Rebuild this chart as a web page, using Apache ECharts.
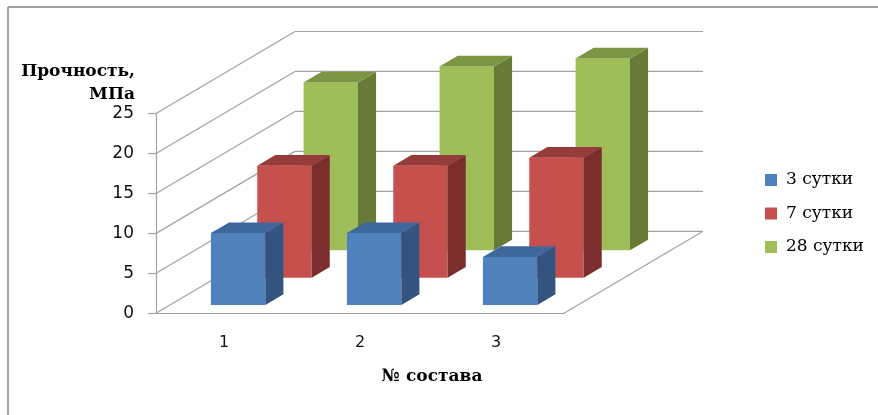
<!DOCTYPE html>
<html>
<head>
<meta charset="utf-8">
<script src="https://cdn.jsdelivr.net/npm/echarts@6/dist/echarts.min.js"></script>
<style>
  html, body { margin: 0; padding: 0; background: #fff; }
  #chart { width: 878px; height: 415px; }
</style>
</head>
<body>
<div id="chart"></div>
<script>
// Compressive strength by mix number and curing age
const categories = ['1', '2', '3'];
const seriesNames = ['3 сутки', '7 сутки', '28 сутки'];
const values3d = [9, 9, 6];
const values7d = [14, 14, 15];
const values28d = [21, 23, 24];
const yTicks = [0, 5, 10, 15, 20, 25];

// Oblique projection of the floor depth, in pixels
const DEPTH_X = 139;
const DEPTH_Y = 82;
const ROWS = 3;
const BAR_DEPTH = 0.13;   // share of the floor depth taken by one bar
const BAR_WIDTH = 0.4;    // share of the category band

const palette = [
  { front: '#4F81BD', side: '#345480', top: '#3E679C' },
  { front: '#C6504E', side: '#7C2D2D', top: '#953B39' },
  { front: '#9FBE5A', side: '#677A38', top: '#7B9543' }
];
const wallColor = '#A3A3A3';

function barRenderer(row) {
  return function (params, api) {
    const cat = api.value(0);
    const val = api.value(1);
    const base = api.coord([cat, 0]);
    const topP = api.coord([cat, val]);
    const band = api.size([1, 0])[0];
    const w = band * BAR_WIDTH;
    const dFront = (row + 0.5) / ROWS - BAR_DEPTH / 2;
    const ddx = DEPTH_X * BAR_DEPTH;
    const ddy = DEPTH_Y * BAR_DEPTH;
    const fx = base[0] + DEPTH_X * dFront - w / 2;
    const fy0 = base[1] - DEPTH_Y * dFront;
    const fy1 = topP[1] - DEPTH_Y * dFront;
    const c = palette[row];
    return {
      type: 'group',
      children: [
        { type: 'rect', shape: { x: fx, y: fy1, width: w, height: fy0 - fy1 }, style: { fill: c.front } },
        { type: 'polygon', shape: { points: [[fx + w, fy1], [fx + w + ddx, fy1 - ddy], [fx + w + ddx, fy0 - ddy], [fx + w, fy0]] }, style: { fill: c.side } },
        { type: 'polygon', shape: { points: [[fx, fy1], [fx + ddx, fy1 - ddy], [fx + w + ddx, fy1 - ddy], [fx + w, fy1]] }, style: { fill: c.top } }
      ]
    };
  };
}

// Side wall diagonals, back wall gridlines and the floor's right edge
function wallRenderer(params, api) {
  const v = api.value(1);
  const band = api.size([1, 0])[0];
  const p = api.coord([0, v]);
  const left = p[0] - band / 2;
  const right = api.coord([categories.length - 1, v])[0] + band / 2;
  const y = p[1];
  const lineStyle = { stroke: wallColor, lineWidth: 1.2, fill: null };
  const children = [
    { type: 'line', shape: { x1: left, y1: y, x2: left + DEPTH_X, y2: y - DEPTH_Y }, style: lineStyle },
    { type: 'line', shape: { x1: left + DEPTH_X, y1: y - DEPTH_Y, x2: right + DEPTH_X, y2: y - DEPTH_Y }, style: lineStyle }
  ];
  if (v === 0) {
    children.push({ type: 'line', shape: { x1: right, y1: y, x2: right + DEPTH_X, y2: y - DEPTH_Y }, style: lineStyle });
  }
  return { type: 'group', children: children };
}

const seriesValues = [values3d, values7d, values28d];

const chart = echarts.init(document.getElementById('chart'));
chart.setOption({
  animation: false,
  backgroundColor: '#fff',
  grid: { left: 156, right: 314, top: 113.5, bottom: 101.7, containLabel: false },
  xAxis: {
    type: 'category',
    data: categories,
    axisLine: { show: true, lineStyle: { color: wallColor, width: 1.2 } },
    axisTick: { show: false },
    axisLabel: { margin: 22, fontFamily: 'DejaVu Sans', fontSize: 16, color: '#111' },
    splitLine: { show: false }
  },
  yAxis: {
    type: 'value',
    min: 0,
    max: 25,
    interval: 5,
    axisLine: { show: true, lineStyle: { color: wallColor, width: 1.2 } },
    axisTick: { show: true, length: 8, lineStyle: { color: wallColor, width: 1.2 } },
    axisLabel: { margin: 22, fontFamily: 'DejaVu Sans', fontSize: 17, color: '#111' },
    splitLine: { show: false }
  },
  legend: {
    orient: 'vertical',
    left: 765,
    top: 171,
    padding: 0,
    itemWidth: 12,
    itemHeight: 12,
    itemGap: 15.5,
    icon: 'rect',
    data: seriesNames,
    textStyle: { fontFamily: 'DejaVu Serif', fontSize: 17, lineHeight: 18, color: '#000', padding: [0, 0, 0, 4] }
  },
  graphic: [
    { type: 'line', shape: { x1: 8, y1: 7, x2: 878, y2: 7 }, style: { stroke: '#A0A0A0', lineWidth: 2 } },
    { type: 'line', shape: { x1: 8, y1: 7, x2: 8, y2: 415 }, style: { stroke: '#A0A0A0', lineWidth: 2 } },
    { type: 'text', x: 135, y: 72, style: { text: 'Прочность,', textAlign: 'right', textVerticalAlign: 'middle', font: 'bold 17px "DejaVu Serif"', fill: '#000' } },
    { type: 'text', x: 135, y: 95, style: { text: 'МПа', textAlign: 'right', textVerticalAlign: 'middle', font: 'bold 17px "DejaVu Serif"', fill: '#000' } },
    { type: 'text', x: 432, y: 377, style: { text: '№ состава', textAlign: 'center', textVerticalAlign: 'middle', font: 'bold 17px "DejaVu Serif"', fill: '#000' } }
  ],
  series: [
    {
      type: 'custom',
      name: 'walls',
      z: 1,
      silent: true,
      renderItem: wallRenderer,
      encode: { x: 0, y: 1 },
      data: yTicks.map(function (v) { return [0, v]; })
    }
  ].concat(seriesNames.map(function (name, row) {
    return {
      type: 'custom',
      name: name,
      z: 10 - row,
      itemStyle: { color: palette[row].front },
      renderItem: barRenderer(row),
      encode: { x: 0, y: 1 },
      data: seriesValues[row].map(function (v, i) { return [i, v]; })
    };
  }))
});
</script>
</body>
</html>
